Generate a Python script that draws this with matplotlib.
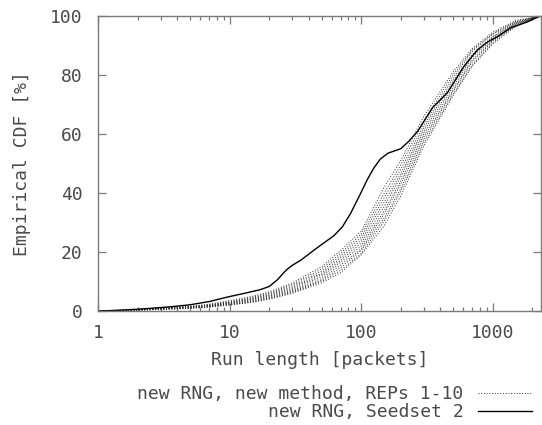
import matplotlib
matplotlib.use("Agg")
import matplotlib.pyplot as plt
from matplotlib.ticker import LogLocator, NullFormatter, FixedLocator

# ===== Data =====
# new RNG, Seedset 2 (solid)
seed_x = [1, 1.2, 2, 2.5, 3.5, 5, 7, 10, 13, 17, 20, 23, 27, 30, 35, 42, 50, 62,
          72, 83, 97, 111, 125, 140, 160, 200, 230, 270, 350, 453, 602, 765,
          900, 1086, 1371, 1837, 2300]
seed_y = [0, 0.1, 0.6, 0.9, 1.4, 2.1, 3.2, 4.9, 6.0, 7.2, 8.3, 10.5, 13.9, 15.5,
          17.3, 20, 22.5, 25.5, 28.5, 33, 39, 44.4, 48.5, 51.5, 53.5, 55, 57.5,
          61, 69, 74, 82.8, 88.5, 91, 93, 96, 98, 100]

# new RNG, new method, REPs 1-10 (dotted), shared run-length grid
rep_x = [1, 1.5, 2, 3, 5, 7, 10, 15, 20, 30, 50, 70, 100, 150, 200, 300, 500,
         700, 1000, 1500, 2300]
rep_1 = [0, 0.3, 0.6, 1.0, 1.6, 2.3, 3.5, 5.0, 6.5, 9.5, 15, 20.5, 27, 42, 51, 66, 81, 89, 94.5, 98.5, 100]
rep_2 = [0, 0.2, 0.5, 0.9, 1.5, 2.1, 3.2, 4.7, 6.1, 9.0, 14.2, 19.6, 26, 40, 49.5, 64.5, 80, 88.5, 94, 98.2, 100]
rep_3 = [0, 0.2, 0.5, 0.9, 1.4, 2.0, 3.0, 4.4, 5.8, 8.5, 13.5, 18.8, 25, 38.5, 48, 63, 79, 88, 93.8, 98, 100]
rep_4 = [0, 0.2, 0.4, 0.8, 1.3, 1.9, 2.9, 4.2, 5.5, 8.1, 12.8, 18, 24, 37, 46.5, 62, 78, 87, 93, 97.8, 100]
rep_5 = [0, 0.1, 0.4, 0.8, 1.3, 1.8, 2.7, 4.0, 5.2, 7.7, 12.3, 17.2, 23, 35.5, 45.5, 61, 77, 86.5, 92.8, 97.6, 100]
rep_6 = [0, 0.1, 0.4, 0.7, 1.2, 1.7, 2.6, 3.8, 5.0, 7.3, 11.7, 16.5, 22, 34, 44, 60, 76, 86, 92.3, 97.4, 100]
rep_7 = [0, 0.1, 0.4, 0.7, 1.1, 1.6, 2.4, 3.5, 4.7, 6.9, 11.0, 15.6, 21, 33, 43, 59, 75, 85, 91.8, 97.2, 100]
rep_8 = [0, 0.1, 0.3, 0.6, 1.0, 1.5, 2.3, 3.3, 4.4, 6.6, 10.4, 14.7, 20.5, 31.5, 41.5, 58, 74.5, 84.5, 91.5, 97, 100]
rep_9 = [0, 0.1, 0.3, 0.6, 1.0, 1.4, 2.1, 3.1, 4.2, 6.3, 10.0, 13.8, 19.5, 30.5, 40.5, 57, 73.5, 83.5, 91, 96.8, 100]
rep_10 = [0, 0.1, 0.3, 0.5, 0.9, 1.3, 2.0, 3.0, 4.0, 6.0, 9.5, 13, 19, 29, 39, 56, 73, 83, 90.5, 96.5, 100]
reps = [rep_1, rep_2, rep_3, rep_4, rep_5, rep_6, rep_7, rep_8, rep_9, rep_10]

x_ticks = [1, 10, 100, 1000]
x_ticklabels = ["1", "10", "100", "1000"]
y_ticks = [0, 20, 40, 60, 80, 100]

# ===== Style =====
FONT = "DejaVu Sans Mono"
FS = 13
TXT = "#4a4a4a"
AXC = "#7a7a7a"

plt.rcParams["font.family"] = FONT

fig = plt.figure(figsize=(5.42, 4.25), dpi=100)
ax = fig.add_axes([98 / 542, 1 - 311 / 425, 443 / 542, 295 / 425])

for i, ys in enumerate(reps):
    ax.plot(rep_x, ys, color="#303030", lw=0.7, linestyle=(0, (1, 1.8)),
            label="new RNG, new method, REPs 1-10" if i == 0 else None)
ax.plot(seed_x, seed_y, color="black", lw=1.0, label="new RNG, Seedset 2")

ax.set_xscale("log")
ax.set_xlim(1, 2330)
ax.set_ylim(0, 100)

ax.xaxis.set_major_locator(FixedLocator(x_ticks))
ax.set_xticklabels(x_ticklabels)
ax.xaxis.set_minor_locator(LogLocator(base=10, subs=range(2, 10)))
ax.xaxis.set_minor_formatter(NullFormatter())
ax.set_yticks(y_ticks)

ax.tick_params(which="both", direction="in", top=True, right=True,
               color=AXC, labelcolor=TXT, labelsize=FS)
ax.tick_params(which="major", length=5.5, width=0.9)
ax.tick_params(which="minor", length=3, width=0.9)
ax.tick_params(axis="x", pad=9)
ax.tick_params(axis="y", pad=11)
for s in ax.spines.values():
    s.set_color(AXC)
    s.set_linewidth(1.0)

ax.set_xlabel("Run length [packets]", fontsize=FS, color=TXT, labelpad=7)
ax.set_ylabel("Empirical CDF [%]", fontsize=FS, color=TXT, labelpad=14)

fig.legend(loc="upper right", bbox_to_anchor=(532 / 542, 1 - 385 / 425),
           frameon=False, markerfirst=False, fontsize=FS, labelcolor=TXT,
           handlelength=3.0, handletextpad=0.8, labelspacing=0.0,
           borderpad=0, borderaxespad=0)

fig.savefig("out.png", dpi=100)
